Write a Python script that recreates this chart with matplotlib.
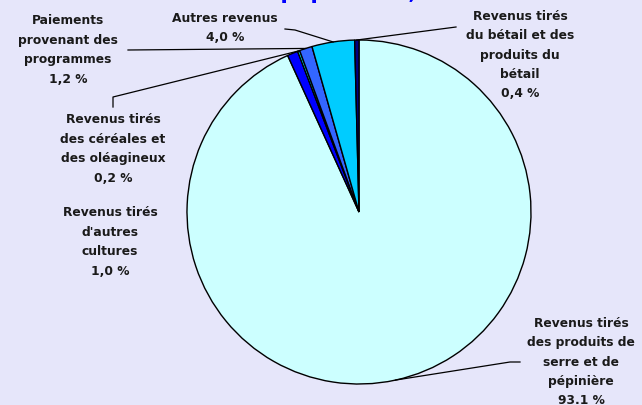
import matplotlib
matplotlib.use("Agg")
import matplotlib.pyplot as plt
from matplotlib.lines import Line2D
import numpy as np

# data (clockwise from 12 o'clock)
labels = [
    "Revenus tirés\ndes produits de\nserre et de\npépinière\n93.1 %",
    "Revenus tirés\nd'autres\ncultures\n1,0 %",
    "Revenus tirés\ndes céréales et\ndes oléagineux\n0,2 %",
    "Paiements\nprovenant des\nprogrammes\n1,2 %",
    "Autres revenus\n4,0 %",
    "Revenus tirés\ndu bétail et des\nproduits du\nbétail\n0,4 %",
]
values = [93.1, 1.0, 0.2, 1.2, 4.0, 0.4]
colors = ["#ccffff", "#0000ff", "#00ffff", "#3366ff", "#00ccff", "#000080"]

# label centres and leader paths in pixels (top-left origin), None = no leader
label_pos = [(581, 362), (110, 242), (113, 149), (68, 50), (225, 28), (520, 55)]
leaders = [[(520, 362), (510, 362)], None, [(113, 107), (113, 97)],
           [(128, 50)], [(285, 29), (295, 30)], [(456, 27)]]

W, H = 642, 405
bg = "#e6e6fa"
fig = plt.figure(figsize=(W / 100, H / 100), dpi=100, facecolor=bg)

def fx(px):
    return px / W

def fy(py):
    return 1 - py / H

cx, cy, r = 359, 212, 172
ax = fig.add_axes([fx(cx - r), fy(cy + r), 2 * r / W, 2 * r / H])
ax.set_facecolor(bg)
wedges, _ = ax.pie(values, colors=colors, startangle=90, counterclock=False,
                   wedgeprops=dict(edgecolor="black", linewidth=1.0),
                   radius=1)
ax.set_xlim(-1, 1)
ax.set_ylim(-1, 1)
ax.axis("off")

fig.canvas.draw()
to_fig = fig.transFigure.inverted()

for w, lab, pos, lead in zip(wedges, labels, label_pos, leaders):
    fig.text(fx(pos[0]), fy(pos[1]), lab, ha="center", va="center",
             fontsize=8.8, fontweight="bold", color="#1a1a1a",
             family="DejaVu Sans", linespacing=1.64)
    if lead is None:
        continue
    mid = np.deg2rad((w.theta1 + w.theta2) / 2)
    ex, ey = to_fig.transform(ax.transData.transform((np.cos(mid), np.sin(mid))))
    xs = [fx(p[0]) for p in lead] + [ex]
    ys = [fy(p[1]) for p in lead] + [ey]
    fig.add_artist(Line2D(xs, ys, color="black", linewidth=0.9,
                          transform=fig.transFigure))

# title, mostly cut off at the top of the image
prefix = "Sources de revenus des serres et "
title = prefix + "pépinières, Canada"
tkw = dict(fontsize=15.5, fontweight="bold", family="DejaVu Sans", color="#0000ff")
tmp = fig.text(0, 0, prefix, **tkw)
rend = fig.canvas.get_renderer()
pw = tmp.get_window_extent(rend).width
tmp.remove()
fig.text(fx(281 - pw), fy(-1), title, ha="left", va="baseline", **tkw)

fig.savefig("out.png", dpi=100, facecolor=bg)
